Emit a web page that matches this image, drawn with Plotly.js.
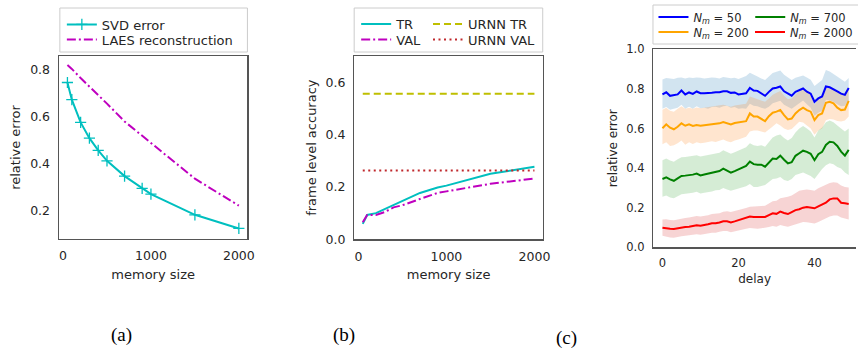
<!DOCTYPE html>
<html><head><meta charset="utf-8">
<script src="https://cdn.plot.ly/plotly-3.0.1.min.js"></script>
<style>html,body{margin:0;padding:0;background:#fff}</style>
</head><body>
<div id="chart" style="width:858px;height:349px"></div>
<script>
// ---------- Panel (a) ----------
const memSize   = [50, 100, 200, 300, 400, 500, 700, 900, 1000, 1500, 2000];
const svdError  = [0.747, 0.674, 0.577, 0.510, 0.458, 0.413, 0.348, 0.296, 0.271, 0.183, 0.125];
const laesError = [0.822, 0.805, 0.766, 0.730, 0.695, 0.657, 0.581, 0.520, 0.490, 0.337, 0.222];
// ---------- Panel (b) ----------
const trAcc   = [0.059, 0.093, 0.100, 0.115, 0.133, 0.145, 0.177, 0.198, 0.205, 0.250, 0.277];
const valAcc  = [0.065, 0.093, 0.093, 0.104, 0.122, 0.130, 0.154, 0.177, 0.183, 0.212, 0.232];
const urnnX   = [50, 2000];
const urnnTr  = [0.556, 0.556];
const urnnVal = [0.263, 0.263];
// ---------- Panel (c) ----------
const delay = [0,1,2,3,4,5,6,7,8,9,10,11,12,13,14,15,16,17,18,19,20,21,22,23,24,25,26,27,28,29,
               30,31,32,33,34,35,36,37,38,39,40,41,42,43,44,45,46,47,48,49];
const err50 = [0.772,0.783,0.765,0.767,0.772,0.792,0.772,0.782,0.775,0.787,
               0.778,0.778,0.778,0.780,0.783,0.783,0.788,0.788,0.780,0.782,
               0.772,0.776,0.778,0.805,0.792,0.790,0.778,0.765,0.785,0.802,
               0.806,0.812,0.788,0.775,0.766,0.785,0.793,0.802,0.786,0.776,
               0.735,0.752,0.762,0.812,0.808,0.800,0.788,0.776,0.770,0.804];
const up50  = [0.848,0.855,0.852,0.850,0.856,0.858,0.852,0.857,0.855,0.858,
               0.856,0.852,0.855,0.858,0.856,0.852,0.860,0.858,0.854,0.856,
               0.850,0.858,0.865,0.882,0.870,0.862,0.852,0.845,0.862,0.880,
               0.886,0.893,0.872,0.858,0.845,0.856,0.862,0.868,0.858,0.846,
               0.815,0.830,0.845,0.895,0.888,0.875,0.862,0.845,0.836,0.855];
const lo50  = [0.700,0.708,0.695,0.700,0.705,0.720,0.700,0.710,0.700,0.712,
               0.702,0.705,0.700,0.708,0.710,0.705,0.712,0.715,0.705,0.708,
               0.700,0.702,0.700,0.725,0.715,0.712,0.705,0.700,0.710,0.728,
               0.735,0.740,0.720,0.710,0.700,0.712,0.728,0.742,0.722,0.705,
               0.665,0.680,0.690,0.745,0.742,0.735,0.722,0.712,0.715,0.740];
const err200 = [0.601,0.621,0.604,0.596,0.609,0.626,0.614,0.621,0.613,0.618,
                0.614,0.616,0.618,0.621,0.623,0.626,0.633,0.626,0.621,0.628,
                0.630,0.632,0.637,0.676,0.660,0.660,0.650,0.637,0.662,0.680,
                0.685,0.693,0.668,0.646,0.650,0.676,0.693,0.705,0.693,0.685,
                0.643,0.668,0.676,0.730,0.735,0.727,0.705,0.693,0.696,0.740];
const up200  = [0.695,0.705,0.690,0.685,0.700,0.712,0.700,0.705,0.700,0.706,
                0.702,0.705,0.706,0.708,0.712,0.714,0.720,0.715,0.710,0.716,
                0.718,0.720,0.725,0.762,0.755,0.750,0.740,0.735,0.752,0.770,
                0.780,0.790,0.765,0.748,0.752,0.772,0.790,0.800,0.785,0.772,
                0.720,0.748,0.762,0.810,0.805,0.800,0.790,0.778,0.780,0.810];
const lo200  = [0.520,0.530,0.512,0.515,0.525,0.540,0.518,0.530,0.522,0.530,
                0.525,0.528,0.530,0.535,0.532,0.538,0.545,0.535,0.530,0.540,
                0.545,0.550,0.558,0.585,0.590,0.590,0.585,0.580,0.595,0.610,
                0.626,0.615,0.600,0.592,0.598,0.615,0.634,0.630,0.615,0.600,
                0.568,0.590,0.600,0.642,0.648,0.645,0.638,0.635,0.640,0.660];
const err700 = [0.345,0.353,0.343,0.336,0.348,0.360,0.362,0.364,0.367,0.372,
                0.363,0.368,0.373,0.376,0.380,0.385,0.397,0.385,0.377,0.385,
                0.393,0.400,0.411,0.433,0.420,0.417,0.417,0.407,0.428,0.448,
                0.446,0.463,0.442,0.424,0.430,0.462,0.475,0.488,0.482,0.472,
                0.440,0.470,0.482,0.517,0.533,0.530,0.512,0.483,0.463,0.492];
const up700  = [0.440,0.448,0.438,0.432,0.445,0.455,0.456,0.458,0.462,0.465,
                0.458,0.462,0.468,0.470,0.475,0.478,0.490,0.480,0.472,0.480,
                0.488,0.495,0.505,0.525,0.515,0.512,0.515,0.508,0.530,0.555,
                0.565,0.570,0.552,0.540,0.552,0.580,0.600,0.612,0.600,0.585,
                0.555,0.590,0.605,0.632,0.640,0.632,0.615,0.598,0.585,0.600];
const lo700  = [0.255,0.262,0.252,0.248,0.258,0.268,0.270,0.272,0.275,0.280,
                0.272,0.275,0.280,0.282,0.288,0.290,0.300,0.292,0.285,0.292,
                0.298,0.302,0.308,0.320,0.305,0.305,0.310,0.315,0.330,0.345,
                0.348,0.355,0.340,0.335,0.345,0.365,0.372,0.378,0.370,0.360,
                0.345,0.372,0.395,0.415,0.424,0.420,0.405,0.398,0.378,0.365];
const err2000 = [0.099,0.098,0.094,0.092,0.096,0.100,0.102,0.104,0.109,0.111,
                 0.109,0.111,0.116,0.121,0.121,0.125,0.131,0.131,0.126,0.131,
                 0.138,0.143,0.148,0.155,0.153,0.152,0.153,0.153,0.163,0.172,
                 0.169,0.180,0.173,0.168,0.178,0.188,0.192,0.200,0.203,0.200,
                 0.197,0.207,0.217,0.225,0.242,0.247,0.247,0.225,0.222,0.219];
const up2000  = [0.140,0.142,0.138,0.136,0.140,0.145,0.148,0.150,0.155,0.158,
                 0.155,0.158,0.162,0.168,0.170,0.172,0.180,0.182,0.178,0.182,
                 0.188,0.192,0.198,0.205,0.205,0.205,0.208,0.210,0.222,0.232,
                 0.235,0.248,0.252,0.255,0.262,0.275,0.285,0.290,0.292,0.290,
                 0.285,0.298,0.308,0.318,0.325,0.328,0.326,0.312,0.305,0.302];
const lo2000  = [0.058,0.055,0.050,0.048,0.052,0.056,0.058,0.060,0.064,0.066,
                 0.064,0.066,0.070,0.074,0.073,0.078,0.082,0.082,0.076,0.080,
                 0.086,0.090,0.094,0.098,0.095,0.094,0.096,0.098,0.102,0.108,
                 0.104,0.112,0.108,0.104,0.110,0.118,0.122,0.128,0.126,0.124,
                 0.120,0.128,0.136,0.145,0.155,0.160,0.160,0.150,0.145,0.140];

const W = 858, H = 349;
const px = v => v / W, py = v => 1 - v / H;
const FONT = 'DejaVu Sans';
const TXT = '#262626';

const traces = [];
// (a)
traces.push({x: memSize, y: svdError, name: 'SVD error', mode: 'lines+markers', xaxis: 'x', yaxis: 'y',
  line: {color: '#00bfbf', width: 2}, marker: {symbol: 'cross-thin-open', size: 8, line: {color: '#00bfbf', width: 1.3}},
  legend: 'legend'});
traces.push({x: memSize, y: laesError, name: 'LAES reconstruction', mode: 'lines', xaxis: 'x', yaxis: 'y',
  line: {color: '#bf00bf', width: 2, dash: '9px,3px,2px,3px'}, legend: 'legend2'});
// (b)
traces.push({x: memSize, y: trAcc, name: 'TR', mode: 'lines', xaxis: 'x2', yaxis: 'y2',
  line: {color: '#00bfbf', width: 2}, legend: 'legend3'});
traces.push({x: memSize, y: valAcc, name: 'VAL', mode: 'lines', xaxis: 'x2', yaxis: 'y2',
  line: {color: '#bf00bf', width: 2, dash: '9px,3px,2px,3px'}, legend: 'legend4'});
traces.push({x: urnnX, y: urnnTr, name: 'URNN TR', mode: 'lines', xaxis: 'x2', yaxis: 'y2',
  line: {color: '#bfbf00', width: 2, dash: '7px,4px'}, legend: 'legend5'});
traces.push({x: urnnX, y: urnnVal, name: 'URNN VAL', mode: 'lines', xaxis: 'x2', yaxis: 'y2',
  line: {color: '#c0282d', width: 2, dash: '2px,3.5px'}, legend: 'legend6'});
// (c) bands
const bands = [[up50, lo50, 'rgba(31,119,180,0.2)'], [up200, lo200, 'rgba(255,127,14,0.2)'],
               [up700, lo700, 'rgba(44,160,44,0.2)'], [up2000, lo2000, 'rgba(214,39,40,0.2)']];
bands.forEach(b => {
  traces.push({x: delay.concat(delay.slice().reverse()), y: b[0].concat(b[1].slice().reverse()),
    fill: 'toself', fillcolor: b[2], mode: 'lines', line: {width: 0, color: 'rgba(0,0,0,0)'},
    xaxis: 'x3', yaxis: 'y3', showlegend: false, hoverinfo: 'skip'});
});
const nm = v => '<i>N</i><sub><i>m</i></sub> = ' + v;
traces.push({x: delay, y: err50, name: nm(50), mode: 'lines', xaxis: 'x3', yaxis: 'y3', line: {color: '#0000ff', width: 2}, legend: 'legend7'});
traces.push({x: delay, y: err200, name: nm(200), mode: 'lines', xaxis: 'x3', yaxis: 'y3', line: {color: '#ffa500', width: 2}, legend: 'legend8'});
traces.push({x: delay, y: err700, name: nm(700), mode: 'lines', xaxis: 'x3', yaxis: 'y3', line: {color: '#008000', width: 2}, legend: 'legend9'});
traces.push({x: delay, y: err2000, name: nm(2000), mode: 'lines', xaxis: 'x3', yaxis: 'y3', line: {color: '#ff0000', width: 2}, legend: 'legend10'});

function axis(domain, range, o) {
  return Object.assign({domain: domain, range: range, showline: true, linecolor: '#555', linewidth: 1.3,
    mirror: true, showgrid: false, zeroline: false, ticks: 'outside', ticklen: 5, tickcolor: 'rgba(0,0,0,0)',
    tickfont: {family: FONT, size: 12.5, color: TXT}, fixedrange: true}, o);
}
const tfont = {family: FONT, size: 13, color: TXT};
function leg(x, yTop, size) {
  return {x: px(x), y: py(yTop), xanchor: 'left', yanchor: 'top', bgcolor: 'rgba(0,0,0,0)', borderwidth: 0,
    font: {family: FONT, size: size, color: TXT}};
}

const layout = {
  width: W, height: H, margin: {l: 0, r: 0, t: 0, b: 0}, paper_bgcolor: '#fff', plot_bgcolor: '#fff',
  showlegend: true, font: {family: FONT, color: TXT},
  xaxis:  axis([px(59), px(248)], [-47.5, 2097.5], {anchor: 'y', dtick: 1000, tick0: 0,
           title: {text: 'memory size', font: tfont, standoff: 7}}),
  yaxis:  axis([py(239), py(56)], [0.08, 0.86], {anchor: 'x', dtick: 0.2, tick0: 0, tickformat: '.1f',
           title: {text: 'relative error', font: tfont, standoff: 6}}),
  xaxis2: axis([px(355), px(544.3)], [-47.5, 2097.5], {anchor: 'y2', dtick: 1000, tick0: 0,
           title: {text: 'memory size', font: tfont, standoff: 7}}),
  yaxis2: axis([py(239.3), py(56)], [0, 0.7], {anchor: 'x2', dtick: 0.2, tick0: 0, tickformat: '.1f',
           title: {text: 'frame level accuracy', font: tfont, standoff: 6}}),
  xaxis3: axis([px(654.7), 1], [-2.44, 50.92], {anchor: 'y3', dtick: 20, tick0: 0,
           tickfont: {family: FONT, size: 11.5, color: TXT},
           title: {text: 'delay', font: {family: FONT, size: 12, color: TXT}, standoff: 5}}),
  yaxis3: axis([py(247.3), py(49.3)], [0, 1], {anchor: 'x3', dtick: 0.2, tick0: 0, tickformat: '.1f', mirror: false,
           tickfont: {family: FONT, size: 11.5, color: TXT},
           title: {text: 'relative error', font: {family: FONT, size: 12, color: TXT}, standoff: 6}}),
  legend:   leg(62, 9.5, 13),
  legend2:  leg(62, 24.5, 13),
  legend3:  leg(357, 9, 13),
  legend4:  leg(357, 24.5, 13),
  legend5:  leg(429, 9, 13),
  legend6:  leg(429, 24.5, 13),
  legend7:  leg(655, 2.5, 11.5),
  legend8:  leg(655, 17.5, 11.5),
  legend9:  leg(752, 2.5, 11.5),
  legend10: leg(752, 17.5, 11.5),
  shapes: [
    {type: 'rect', xref: 'paper', yref: 'paper', x0: px(60), x1: px(248), y0: py(52), y1: py(8),
     line: {color: '#ccc', width: 1}, fillcolor: '#fff', layer: 'below'},
    {type: 'rect', xref: 'paper', yref: 'paper', x0: px(355), x1: px(544), y0: py(52), y1: py(8),
     line: {color: '#ccc', width: 1}, fillcolor: '#fff', layer: 'below'},
    {type: 'rect', xref: 'paper', yref: 'paper', x0: px(654.5), x1: px(880), y0: py(44), y1: py(5),
     line: {color: '#ccc', width: 1}, fillcolor: '#fff', layer: 'below'}
  ],
  annotations: [
    {text: '(a)', xref: 'paper', yref: 'paper', x: px(121.7), y: py(335), xanchor: 'center', yanchor: 'middle',
     showarrow: false, font: {family: 'Liberation Serif', size: 19, color: '#000'}},
    {text: '(b)', xref: 'paper', yref: 'paper', x: px(345), y: py(335), xanchor: 'center', yanchor: 'middle',
     showarrow: false, font: {family: 'Liberation Serif', size: 19, color: '#000'}},
    {text: '(c)', xref: 'paper', yref: 'paper', x: px(568), y: py(338), xanchor: 'center', yanchor: 'middle',
     showarrow: false, font: {family: 'Liberation Serif', size: 19, color: '#000'}}
  ]
};

Plotly.newPlot('chart', traces, layout, {staticPlot: true, displayModeBar: false});
</script>
</body></html>
